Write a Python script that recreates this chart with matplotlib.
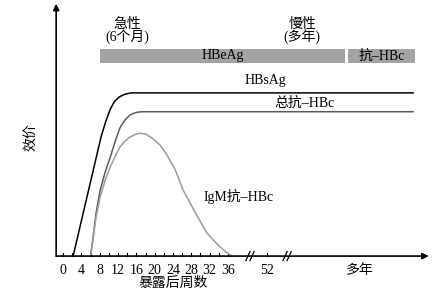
import matplotlib.pyplot as plt

plt.rcParams['font.family'] = ['Liberation Serif', 'Noto Sans CJK SC']
plt.rcParams['font.size'] = 10

# weeks after exposure (x) vs titre (y, arbitrary units 0-100)
hbsag_x = [2.2, 8.3, 9.3, 10.3, 11.2, 12.2, 13.4, 14.8, 76.4]
hbsag_y = [0, 47.5, 53.5, 58.5, 61.5, 63.3, 64.4, 65.0, 65.0]

total_x = [6.0, 6.6, 7.2, 8.1, 9.2, 10.3, 11.4, 12.4, 13.5, 14.6, 15.9, 17.2, 76.4]
total_y = [0, 8.0, 17.0, 26.3, 33.5, 39.4, 45.8, 51.0, 54.2, 56.2, 57.2, 57.5, 57.5]

igm_x = [6.0, 6.6, 7.2, 8.1, 9.2, 10.3, 11.4, 12.4, 13.5, 14.6, 15.7, 16.8,
         18.1, 19.7, 21.2, 22.7, 24.5, 26.2, 28.8, 31.4, 33.0, 34.3, 35.6, 36.9]
igm_y = [0, 7.6, 15.5, 23.5, 30.3, 35.5, 39.8, 43.4, 45.8, 47.4, 48.4, 48.9,
         48.6, 46.6, 44.2, 40.2, 34.3, 26.3, 17.5, 9.2, 6.0, 3.6, 1.6, 0]

tick_weeks = [0, 4, 8, 12, 16, 20, 24, 28, 32, 36]
pos_52 = 44.5
pos_years = 64.8
breaks = [40.8, 48.9]

fig = plt.figure(figsize=(4.47, 2.97), dpi=100)
ax = fig.add_axes([0, 0, 1, 1])
ax.set_xlim(-13.76, 83.8)
ax.set_ylim(-16.3, 102)
ax.axis('off')

# axes with arrows
ax.annotate('', xy=(-1.5, 100.5), xytext=(-1.5, 0),
            arrowprops=dict(arrowstyle='-|>', color='black', lw=1.2,
                            mutation_scale=9, shrinkA=0, shrinkB=0))
ax.annotate('', xy=(79.8, 0), xytext=(-1.5, 0),
            arrowprops=dict(arrowstyle='-|>', color='black', lw=1.2,
                            mutation_scale=9, shrinkA=0, shrinkB=0))

# ticks
for w in range(0, 37, 2):
    ax.plot([w, w], [0, 1.2], color='black', lw=0.8)
ax.plot([pos_52, pos_52], [0, 1.2], color='black', lw=0.8)
for w in tick_weeks:
    ax.text(w, -5.6, str(w), ha='center', va='center')
ax.text(pos_52, -5.6, '52', ha='center', va='center')
ax.text(pos_years, -5.6, '多年', ha='center', va='center')

# axis breaks
for b in breaks:
    for d in (-0.45, 0.45):
        ax.plot([b + d - 0.45, b + d + 0.45], [-1.8, 1.8], color='black', lw=0.9)

ax.text(24, -10.8, '暴露后周数', ha='center', va='center')
ax.text(-6.8, 47.4, '效价', ha='center', va='center', rotation=90)

# bars
ax.fill_between([8.1, 61.6], 76.9, 82.5, color='#a3a3a3', lw=0)
ax.fill_between([62.2, 76.9], 76.9, 82.5, color='#a3a3a3', lw=0)
ax.text(34.8, 79.7, 'HBeAg', ha='center', va='center')
ax.text(69.5, 79.7, '抗–HBc', ha='center', va='center')

ax.text(14, 92.4, '急性', ha='center', va='center')
ax.text(14, 87.3, '(6个月)', ha='center', va='center')
ax.text(52.2, 92.4, '慢性', ha='center', va='center')
ax.text(52.2, 87.3, '(多年)', ha='center', va='center')

# curves
ax.plot(hbsag_x, hbsag_y, color='black', lw=1.1)
ax.plot(total_x, total_y, color='#5a5a5a', lw=1.1)
ax.plot(igm_x, igm_y, color='#9c9c9c', lw=1.1)

ax.text(44.1, 70.1, 'HBsAg', ha='center', va='center')
ax.text(52.6, 61.0, '总抗–HBc', ha='center', va='center')
ax.text(38.4, 23.9, 'IgM抗–HBc', ha='center', va='center')

fig.savefig('out.png', dpi=100)
